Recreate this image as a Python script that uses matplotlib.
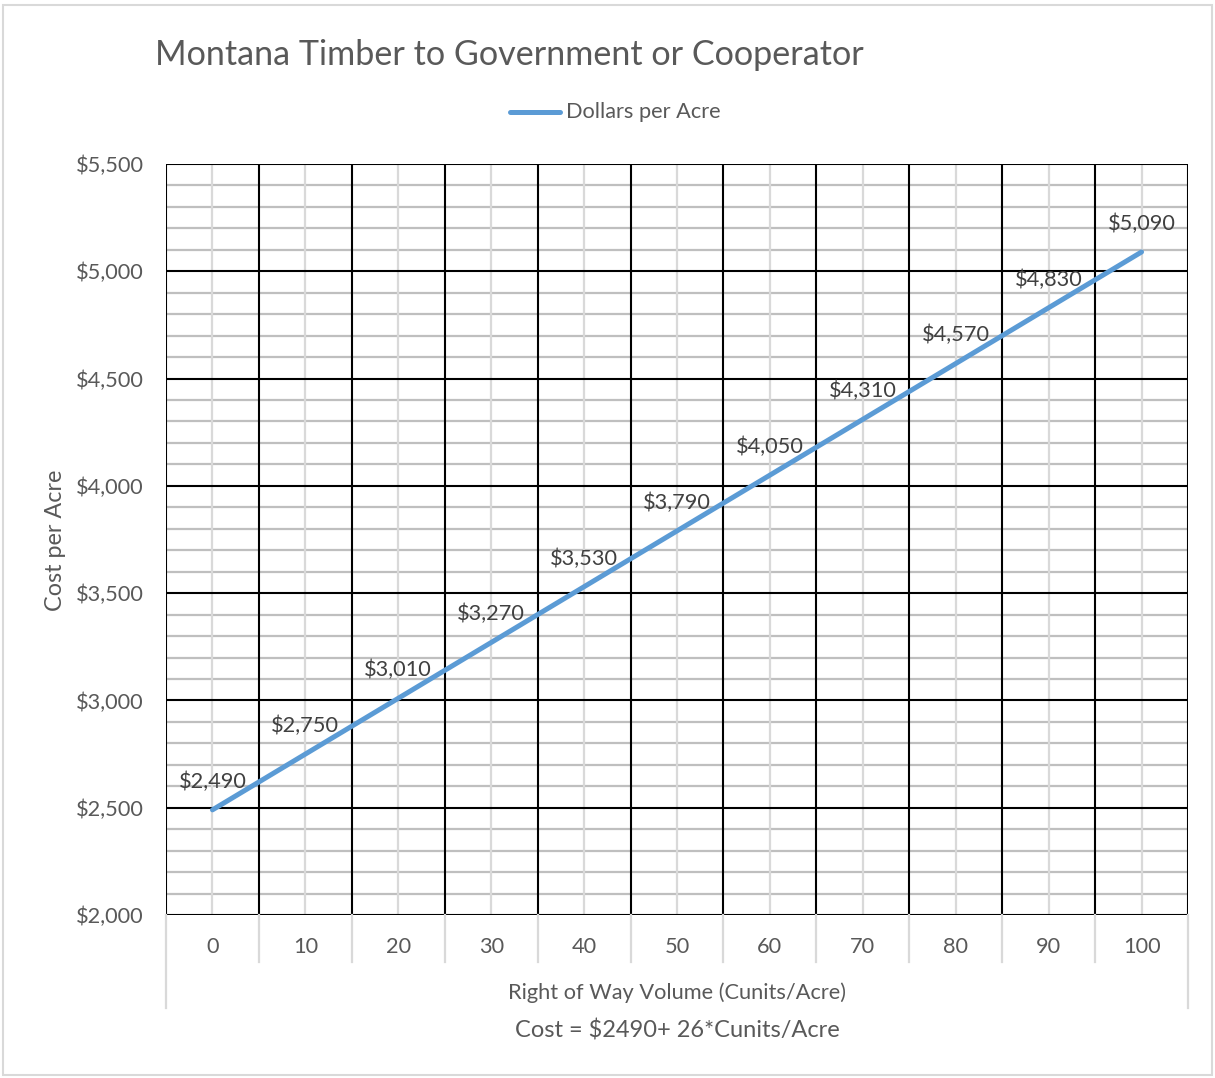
import matplotlib

matplotlib.use("Agg")
import matplotlib.pyplot as plt
from matplotlib.patches import Rectangle
from matplotlib.lines import Line2D

# data
volume = [0, 10, 20, 30, 40, 50, 60, 70, 80, 90, 100]
dollars = [2490, 2750, 3010, 3270, 3530, 3790, 4050, 4310, 4570, 4830, 5090]
y_ticks = [2000, 2500, 3000, 3500, 4000, 4500, 5000, 5500]

TEXT = "#595959"
LINE = "#5B9BD5"
plt.rcParams["font.family"] = ["Lato", "DejaVu Sans"]

W, H = 1215, 1078
fig = plt.figure(figsize=(W / 100, H / 100), dpi=100)
L, R, T, B = 166, 1188, 164, 915
ax = fig.add_axes([L / W, 1 - B / H, (R - L) / W, (B - T) / H])

pos = list(range(len(volume)))
ax.plot(pos, dollars, color=LINE, lw=3.6, solid_capstyle="round", zorder=3)
for x, v in zip(pos, dollars):
    ax.annotate(f"${v:,}", (x, v), xytext=(0, 13), textcoords="offset points",
                ha="center", va="bottom", fontsize=15.7, color="#404040", zorder=4)

ax.set_xlim(-0.5, len(volume) - 0.5)
ax.set_ylim(2000, 5500)

# gridlines: black at major, light grey minor
for yv in range(2000, 5501, 100):
    major = yv % 500 == 0
    ax.axhline(yv, color="black" if major else "#bfbfbf", lw=1.5 if major else 1.6,
               zorder=2 if major else 1)
for i in range(len(volume) + 1):
    ax.axvline(i - 0.5, color="black", lw=1.5, zorder=2)
for i in pos:
    ax.axvline(i, color="#d9d9d9", lw=1.6, zorder=1)

ax.set_yticks(y_ticks)
ax.set_yticklabels([f"${v:,}" for v in y_ticks], fontsize=15.7, color=TEXT)
ax.set_xticks(pos)
ax.set_xticklabels([str(v) for v in volume], fontsize=15.7, color=TEXT)
ax.tick_params(axis="y", length=0, pad=16)
ax.tick_params(axis="x", length=0, pad=16)
for s in ax.spines.values():
    s.set_visible(False)

# category axis box lines below the plot
trans = fig.transFigure
for i in range(len(volume) + 1):
    xp = L + i * (R - L) / len(volume)
    y_end = 1008 if i in (0, len(volume)) else 962
    fig.add_artist(Line2D([xp / W, xp / W], [1 - B / H, 1 - y_end / H],
                          color="#d9d9d9", lw=1.6, transform=trans))

fig.text(677 / W, 1 - 993 / H, "Right of Way Volume (Cunits/Acre)", ha="center",
         va="center", fontsize=15.7, color=TEXT)
fig.text(677 / W, 1 - 1030 / H, "Cost = $2490+ 26*Cunits/Acre", ha="center",
         va="center", fontsize=17, color=TEXT)
fig.text(55 / W, 1 - 540 / H, "Cost per Acre", ha="center", va="center",
         rotation=90, fontsize=16.8, color=TEXT)
fig.text(155 / W, 1 - 55 / H, "Montana Timber to Government or Cooperator",
         ha="left", va="center", fontsize=24.6, color=TEXT)

# legend
fig.add_artist(Line2D([510 / W, 560 / W], [1 - 112 / H, 1 - 112 / H], color=LINE,
                      lw=3.6, solid_capstyle="round", transform=trans))
fig.text(566 / W, 1 - 112 / H, "Dollars per Acre", ha="left", va="center",
         fontsize=15.7, color=TEXT)

fig.add_artist(Rectangle((3 / W, 3 / H), (W - 6) / W, (H - 8) / H, fill=False,
                         edgecolor="#d9d9d9", lw=1.5, transform=trans))

fig.savefig("out.png", dpi=100)
